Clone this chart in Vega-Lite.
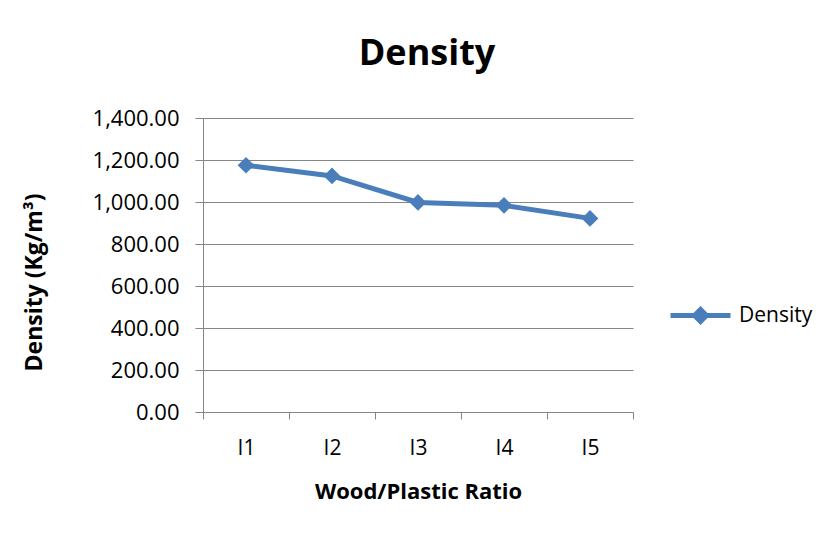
{
  "$schema": "https://vega.github.io/schema/vega-lite/v6.json",
  "autosize": {"type": "none"},
  "padding": {"left": 203, "top": 118, "right": 202, "bottom": 121},
  "width": 430,
  "height": 294,
  "background": "white",
  "title": {
    "text": "Density",
    "font": "Open Sans",
    "fontSize": 36,
    "fontWeight": "bold",
    "color": "#000000",
    "anchor": "middle",
    "frame": "group",
    "baseline": "alphabetic",
    "dx": 9,
    "offset": 6
  },
  "data": {
    "values": [
      {"ratio": "I1", "density": 1175, "series": "Density"},
      {"ratio": "I2", "density": 1124, "series": "Density"},
      {"ratio": "I3", "density": 998, "series": "Density"},
      {"ratio": "I4", "density": 984, "series": "Density"},
      {"ratio": "I5", "density": 922, "series": "Density"}
    ]
  },
  "encoding": {
    "x": {
      "field": "ratio",
      "type": "nominal",
      "bandPosition": 0.5,
      "scale": {"type": "band", "paddingInner": 0, "paddingOuter": 0},
      "axis": {
        "title": "Wood/Plastic Ratio",
        "tickBand": "extent",
        "labelAngle": 0,
        "grid": false,
        "domainColor": "#868686",
        "tickColor": "#868686",
        "tickSize": 7,
        "labelFont": "Open Sans",
        "labelFontSize": 21,
        "labelColor": "#000000",
        "labelPadding": 18,
        "titleFont": "Open Sans",
        "titleFontSize": 22,
        "titleFontWeight": "bold",
        "titleColor": "#000000",
        "titlePadding": 23
      }
    },
    "y": {
      "field": "density",
      "type": "quantitative",
      "scale": {"domain": [0, 1400], "nice": false},
      "axis": {
        "title": "Density (Kg/m³)",
        "values": [0, 200, 400, 600, 800, 1000, 1200, 1400],
        "format": ",.2f",
        "grid": true,
        "gridColor": "#868686",
        "gridWidth": 1,
        "domainColor": "#868686",
        "tickColor": "#868686",
        "tickSize": 8,
        "labelFont": "Open Sans",
        "labelFontSize": 22,
        "labelColor": "#000000",
        "labelPadding": 16,
        "titleFont": "Open Sans",
        "titleFontSize": 23,
        "titleFontWeight": "bold",
        "titleColor": "#000000",
        "titlePadding": 46,
        "titleY": 164
      }
    },
    "color": {
      "field": "series",
      "type": "nominal",
      "scale": {"range": ["#4A7EBB"]},
      "legend": {
        "title": null,
        "orient": "none",
        "legendX": 465,
        "legendY": 165,
        "padding": 0,
        "symbolType": "M-1,0L1,0M0,-0.2L0.2,0L0,0.2L-0.2,0Z",
        "symbolSize": 3600,
        "symbolStrokeWidth": 5,
        "symbolFillColor": "#4A7EBB",
        "symbolStrokeColor": "#4A7EBB",
        "labelFont": "Open Sans",
        "labelFontSize": 21,
        "labelColor": "#000000",
        "labelOffset": 6
      }
    }
  },
  "layer": [
    {"mark": {"type": "line", "strokeWidth": 5}},
    {"mark": {"type": "point", "shape": "diamond", "filled": true, "size": 280, "opacity": 1}}
  ],
  "config": {"view": {"stroke": null}}
}
